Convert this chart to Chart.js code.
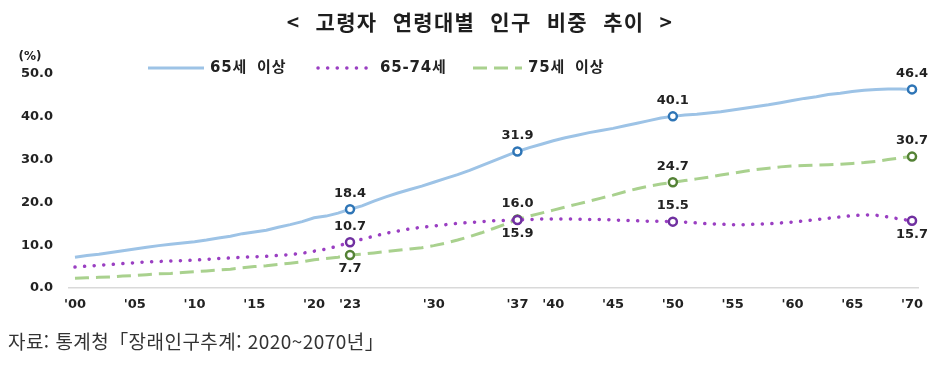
<!DOCTYPE html>
<html lang="ko">
<head>
<meta charset="utf-8">
<script src="https://cdn.jsdelivr.net/npm/chart.js@4.4.1/dist/chart.umd.min.js"></script>
<style>
  html, body { margin: 0; padding: 0; background: #fff; }
  #wrap { position: relative; width: 940px; height: 369px; overflow: hidden; }
  #chart { position: absolute; left: 0; top: 0; }
  #title {
    position: absolute; left: 20px; top: 6px; width: 920px; text-align: center;
    font-family: "Noto Sans CJK KR"; font-weight: 700; font-size: 21px;
    line-height: 30px; letter-spacing: 1.3px; word-spacing: 8px; color: #1e1e1e;
  }
  #source {
    position: absolute; left: 8px; top: 327px; line-height: 28px;
    font-family: "Noto Sans CJK KR"; font-size: 19px; letter-spacing: 0.45px; color: #333;
  }
</style>
</head>
<body>
<div id="wrap">
  <canvas id="chart" width="940" height="369"></canvas>
  <div id="title">&lt; 고령자 연령대별 인구 비중 추이 &gt;</div>
  <div id="source">자료: 통계청「장래인구추계: 2020~2070년」</div>
</div>
<script>
// years on the x axis
const years = [
  2000, 2001, 2002, 2003, 2004, 2005, 2006, 2007, 2008, 2009,
  2010, 2011, 2012, 2013, 2014, 2015, 2016, 2017, 2018, 2019,
  2020, 2021, 2022, 2023, 2024, 2025, 2026, 2027, 2028, 2029,
  2030, 2031, 2032, 2033, 2034, 2035, 2036, 2037, 2038, 2039,
  2040, 2041, 2042, 2043, 2044, 2045, 2046, 2047, 2048, 2049,
  2050, 2051, 2052, 2053, 2054, 2055, 2056, 2057, 2058, 2059,
  2060, 2061, 2062, 2063, 2064, 2065, 2066, 2067, 2068, 2069,
  2070
];

// 65세 이상 (%)
const over65 = [
  7.2, 7.6, 7.9, 8.3, 8.7, 9.1, 9.5, 9.9, 10.2, 10.5,
  10.8, 11.2, 11.7, 12.1, 12.7, 13.1, 13.5, 14.2, 14.8, 15.5,
  16.4, 16.8, 17.5, 18.4, 19.2, 20.3, 21.3, 22.2, 23.0, 23.8,
  24.7, 25.6, 26.5, 27.5, 28.6, 29.7, 30.8, 31.9, 32.8, 33.6,
  34.4, 35.1, 35.7, 36.3, 36.8, 37.3, 37.9, 38.5, 39.1, 39.7,
  40.1, 40.4, 40.6, 40.9, 41.2, 41.6, 42.0, 42.4, 42.8, 43.3,
  43.8, 44.3, 44.7, 45.2, 45.5, 45.9, 46.2, 46.4, 46.5, 46.5,
  46.4
];

// 65-74세 (%)
const age65to74 = [
  4.9, 5.1, 5.3, 5.5, 5.7, 5.9, 6.1, 6.2, 6.3, 6.4,
  6.5, 6.7, 6.9, 7.0, 7.2, 7.3, 7.4, 7.6, 7.8, 8.1,
  8.6, 9.1, 9.8, 10.7, 11.4, 12.1, 12.8, 13.3, 13.8, 14.2,
  14.5, 14.8, 15.1, 15.3, 15.5, 15.7, 15.8, 15.9, 16.0, 16.1,
  16.1, 16.1, 16.1, 16.0, 16.0, 15.9, 15.8, 15.7, 15.6, 15.6,
  15.5, 15.4, 15.2, 15.0, 14.9, 14.8, 14.8, 14.9, 15.0, 15.2,
  15.4, 15.7, 16.0, 16.3, 16.6, 16.9, 17.1, 17.0, 16.6, 16.1,
  15.7
];

// 75세 이상 (%)
const over75 = [
  2.3, 2.4, 2.5, 2.6, 2.8, 2.9, 3.1, 3.3, 3.4, 3.6,
  3.8, 4.0, 4.2, 4.4, 4.7, 5.0, 5.2, 5.5, 5.8, 6.1,
  6.6, 6.9, 7.2, 7.7, 7.9, 8.2, 8.5, 8.8, 9.1, 9.4,
  9.9, 10.5, 11.2, 12.0, 12.9, 13.9, 14.9, 16.0, 16.8, 17.5,
  18.2, 18.9, 19.6, 20.3, 21.0, 21.7, 22.5, 23.2, 23.8, 24.3,
  24.7, 25.1, 25.5, 25.9, 26.4, 26.8, 27.3, 27.7, 28.0, 28.3,
  28.5, 28.6, 28.7, 28.8, 28.9, 29.1, 29.3, 29.6, 30.0, 30.4,
  30.7
];

// years that get a circle marker and a value label
const markYears = [2023, 2037, 2050, 2070];
// years that get an x tick label
const tickYears = [2000, 2005, 2010, 2015, 2020, 2023, 2030, 2037, 2040, 2045, 2050, 2055, 2060, 2065, 2070];

// where each value label sits, per dataset, per marked year
const labelPlacement = [
  ['above', 'above', 'above', 'above'],
  ['above', 'below', 'above', 'below'],
  ['below', 'above', 'above', 'above']
];

const FONT = '"DejaVu Sans", "Noto Sans CJK KR", sans-serif';

function markerRadius(c) {
  return markYears.includes(years[c.dataIndex]) ? 4 : 0;
}

const valueLabels = {
  id: 'valueLabels',
  afterDatasetsDraw(chart) {
    const ctx = chart.ctx;
    ctx.save();
    ctx.font = 'bold 13px ' + FONT;
    ctx.fillStyle = '#222';
    ctx.textAlign = 'center';
    ctx.textBaseline = 'middle';
    chart.data.datasets.forEach((ds, i) => {
      const meta = chart.getDatasetMeta(i);
      markYears.forEach((yr, k) => {
        const idx = years.indexOf(yr);
        const pt = meta.data[idx];
        const dy = labelPlacement[i][k] === 'below' ? 14 : -16;
        ctx.fillText(ds.data[idx].toFixed(1), pt.x, pt.y + dy);
      });
    });
    ctx.restore();
  }
};

// legend: line sample start and text start for each dataset
const legendX = [[148, 210], [318, 380], [473, 528]];

const lineLegend = {
  id: 'lineLegend',
  afterDraw(chart) {
    const ctx = chart.ctx;
    const y = 68;
    ctx.save();
    ctx.font = 'bold 15px ' + FONT;
    ctx.textBaseline = 'middle';
    ctx.wordSpacing = '4px';
    ctx.letterSpacing = '0.8px';
    chart.data.datasets.forEach((ds, i) => {
      const [lx, tx] = legendX[i];
      ctx.beginPath();
      ctx.strokeStyle = ds.borderColor;
      ctx.lineWidth = ds.borderWidth;
      ctx.lineCap = ds.borderCapStyle || 'butt';
      ctx.setLineDash(ds.borderDash || []);
      ctx.moveTo(lx, y);
      ctx.lineTo(tx - 6, y);
      ctx.stroke();
      ctx.setLineDash([]);
      ctx.fillStyle = '#222';
      ctx.fillText(ds.label, tx, y);
    });
    ctx.wordSpacing = '0px';
    ctx.letterSpacing = '0px';
    // unit label above the y axis
    ctx.font = 'bold 12px ' + FONT;
    ctx.textAlign = 'center';
    ctx.fillText('(%)', 30, 57);
    ctx.restore();
  }
};

new Chart(document.getElementById('chart'), {
  type: 'line',
  data: {
    labels: years,
    datasets: [
      {
        label: '65세 이상',
        data: over65,
        borderColor: '#9DC3E6',
        borderWidth: 3,
        pointRadius: markerRadius,
        pointBorderColor: '#2E75B6',
        pointBackgroundColor: '#fff',
        pointBorderWidth: 2.5,
        tension: 0
      },
      {
        label: '65-74세',
        data: age65to74,
        borderColor: '#9A3FC2',
        borderWidth: 3.5,
        borderDash: [0.1, 9.5],
        borderCapStyle: 'round',
        pointRadius: markerRadius,
        pointBorderColor: '#7030A0',
        pointBackgroundColor: '#fff',
        pointBorderWidth: 2.5,
        tension: 0
      },
      {
        label: '75세 이상',
        data: over75,
        borderColor: '#A9D18E',
        borderWidth: 3,
        borderDash: [14, 7],
        pointRadius: markerRadius,
        pointBorderColor: '#548235',
        pointBackgroundColor: '#fff',
        pointBorderWidth: 2.5,
        tension: 0
      }
    ]
  },
  options: {
    responsive: false,
    animation: false,
    layout: { padding: { top: 74, left: 0, right: 22, bottom: 0 } },
    plugins: {
      legend: { display: false },
      title: { display: false },
      tooltip: { enabled: false }
    },
    scales: {
      x: {
        offset: true,
        grid: { display: false, drawTicks: false },
        border: { display: true, color: '#D9D9D9', width: 1.5 },
        ticks: {
          autoSkip: false,
          maxRotation: 0,
          padding: 9,
          color: '#222',
          font: { family: FONT, size: 13, weight: 'bold' },
          callback: function(value, index) {
            const yr = years[index];
            return tickYears.includes(yr) ? "'" + String(yr).slice(2) : '';
          }
        },
        afterFit: s => { s.height = 81; }
      },
      y: {
        min: 0,
        max: 50,
        grid: { display: false, drawTicks: false },
        border: { display: false },
        ticks: {
          stepSize: 10,
          padding: 16,
          color: '#222',
          font: { family: FONT, size: 13, weight: 'bold' },
          callback: v => v.toFixed(1)
        },
        afterFit: s => { s.width = 69; }
      }
    }
  },
  plugins: [valueLabels, lineLegend]
});
</script>
</body>
</html>
